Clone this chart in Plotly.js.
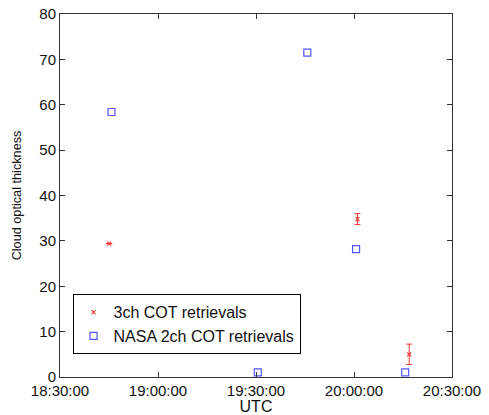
<!DOCTYPE html>
<html>
<head>
<meta charset="utf-8">
<script src="https://cdn.plot.ly/plotly-3.0.1.min.js"></script>
<style>html,body{margin:0;padding:0;background:#fff;}#chart{width:489px;height:415px;}</style>
</head>
<body>
<div id="chart"></div>
<script>
const redTimes = ['2000-01-01 18:45:02', '2000-01-01 20:01:04', '2000-01-01 20:16:54'];
const redCOT = [29.4, 34.8, 5.0];
const redErr = [0, 1.2, 2.25];

const blueTimes = ['2000-01-01 18:45:45', '2000-01-01 19:30:33', '2000-01-01 19:45:42', '2000-01-01 20:00:38', '2000-01-01 20:15:40'];
const blueCOT = [58.4, 1.0, 71.5, 28.2, 1.0];

const xRange = ['2000-01-01 18:30:00', '2000-01-01 20:30:00'];
const yRange = [0, 80];

const FONT = 'Liberation Sans, Arial, Helvetica, sans-serif';

const traces = [
  {
    x: redTimes, y: redCOT, type: 'scatter', mode: 'markers',
    name: '3ch COT retrievals',
    marker: {symbol: 'x-thin', size: 4, color: 'rgba(0,0,0,0)', line: {color: '#ff3333', width: 1.2}},
    error_y: {type: 'data', array: redErr, visible: true, color: '#ff3333', thickness: 1, width: 3}
  },
  {
    x: blueTimes, y: blueCOT, type: 'scatter', mode: 'markers',
    name: 'NASA 2ch COT retrievals',
    marker: {symbol: 'square-open', size: 7, color: '#5555ff', line: {width: 1.2}}
  }
];

const axisCommon = {
  showline: true, linecolor: '#333', linewidth: 1, mirror: 'ticks',
  ticks: 'inside', ticklen: 5, tickcolor: '#333', tickwidth: 1,
  showgrid: false, zeroline: false,
  tickfont: {family: FONT, size: 15, color: '#111'}
};

const layout = {
  width: 489, height: 415,
  margin: {l: 60, r: 37, t: 14, b: 38},
  paper_bgcolor: '#fff', plot_bgcolor: '#fff',
  font: {family: FONT, color: '#111'},
  showlegend: true,
  legend: {
    x: 0.032, y: 0.228, xanchor: 'left', yanchor: 'top',
    bordercolor: '#000', borderwidth: 1, bgcolor: '#fff',
    font: {size: 16, family: FONT},
    tracegroupgap: 0
  },
  xaxis: Object.assign({}, axisCommon, {
    type: 'date', range: xRange, dtick: 1800000, tick0: xRange[0],
    tickformat: '%H:%M:%S', ticklabelstandoff: 0,
    title: {text: 'UTC', font: {size: 16}, standoff: 0}
  }),
  yaxis: Object.assign({}, axisCommon, {
    range: yRange, dtick: 10, ticklabelstandoff: 0,
    title: {text: 'Cloud optical thickness', font: {size: 12.7}, standoff: 14}
  })
};

Plotly.newPlot('chart', traces, layout, {displayModeBar: false, staticPlot: true});
</script>
</body>
</html>
